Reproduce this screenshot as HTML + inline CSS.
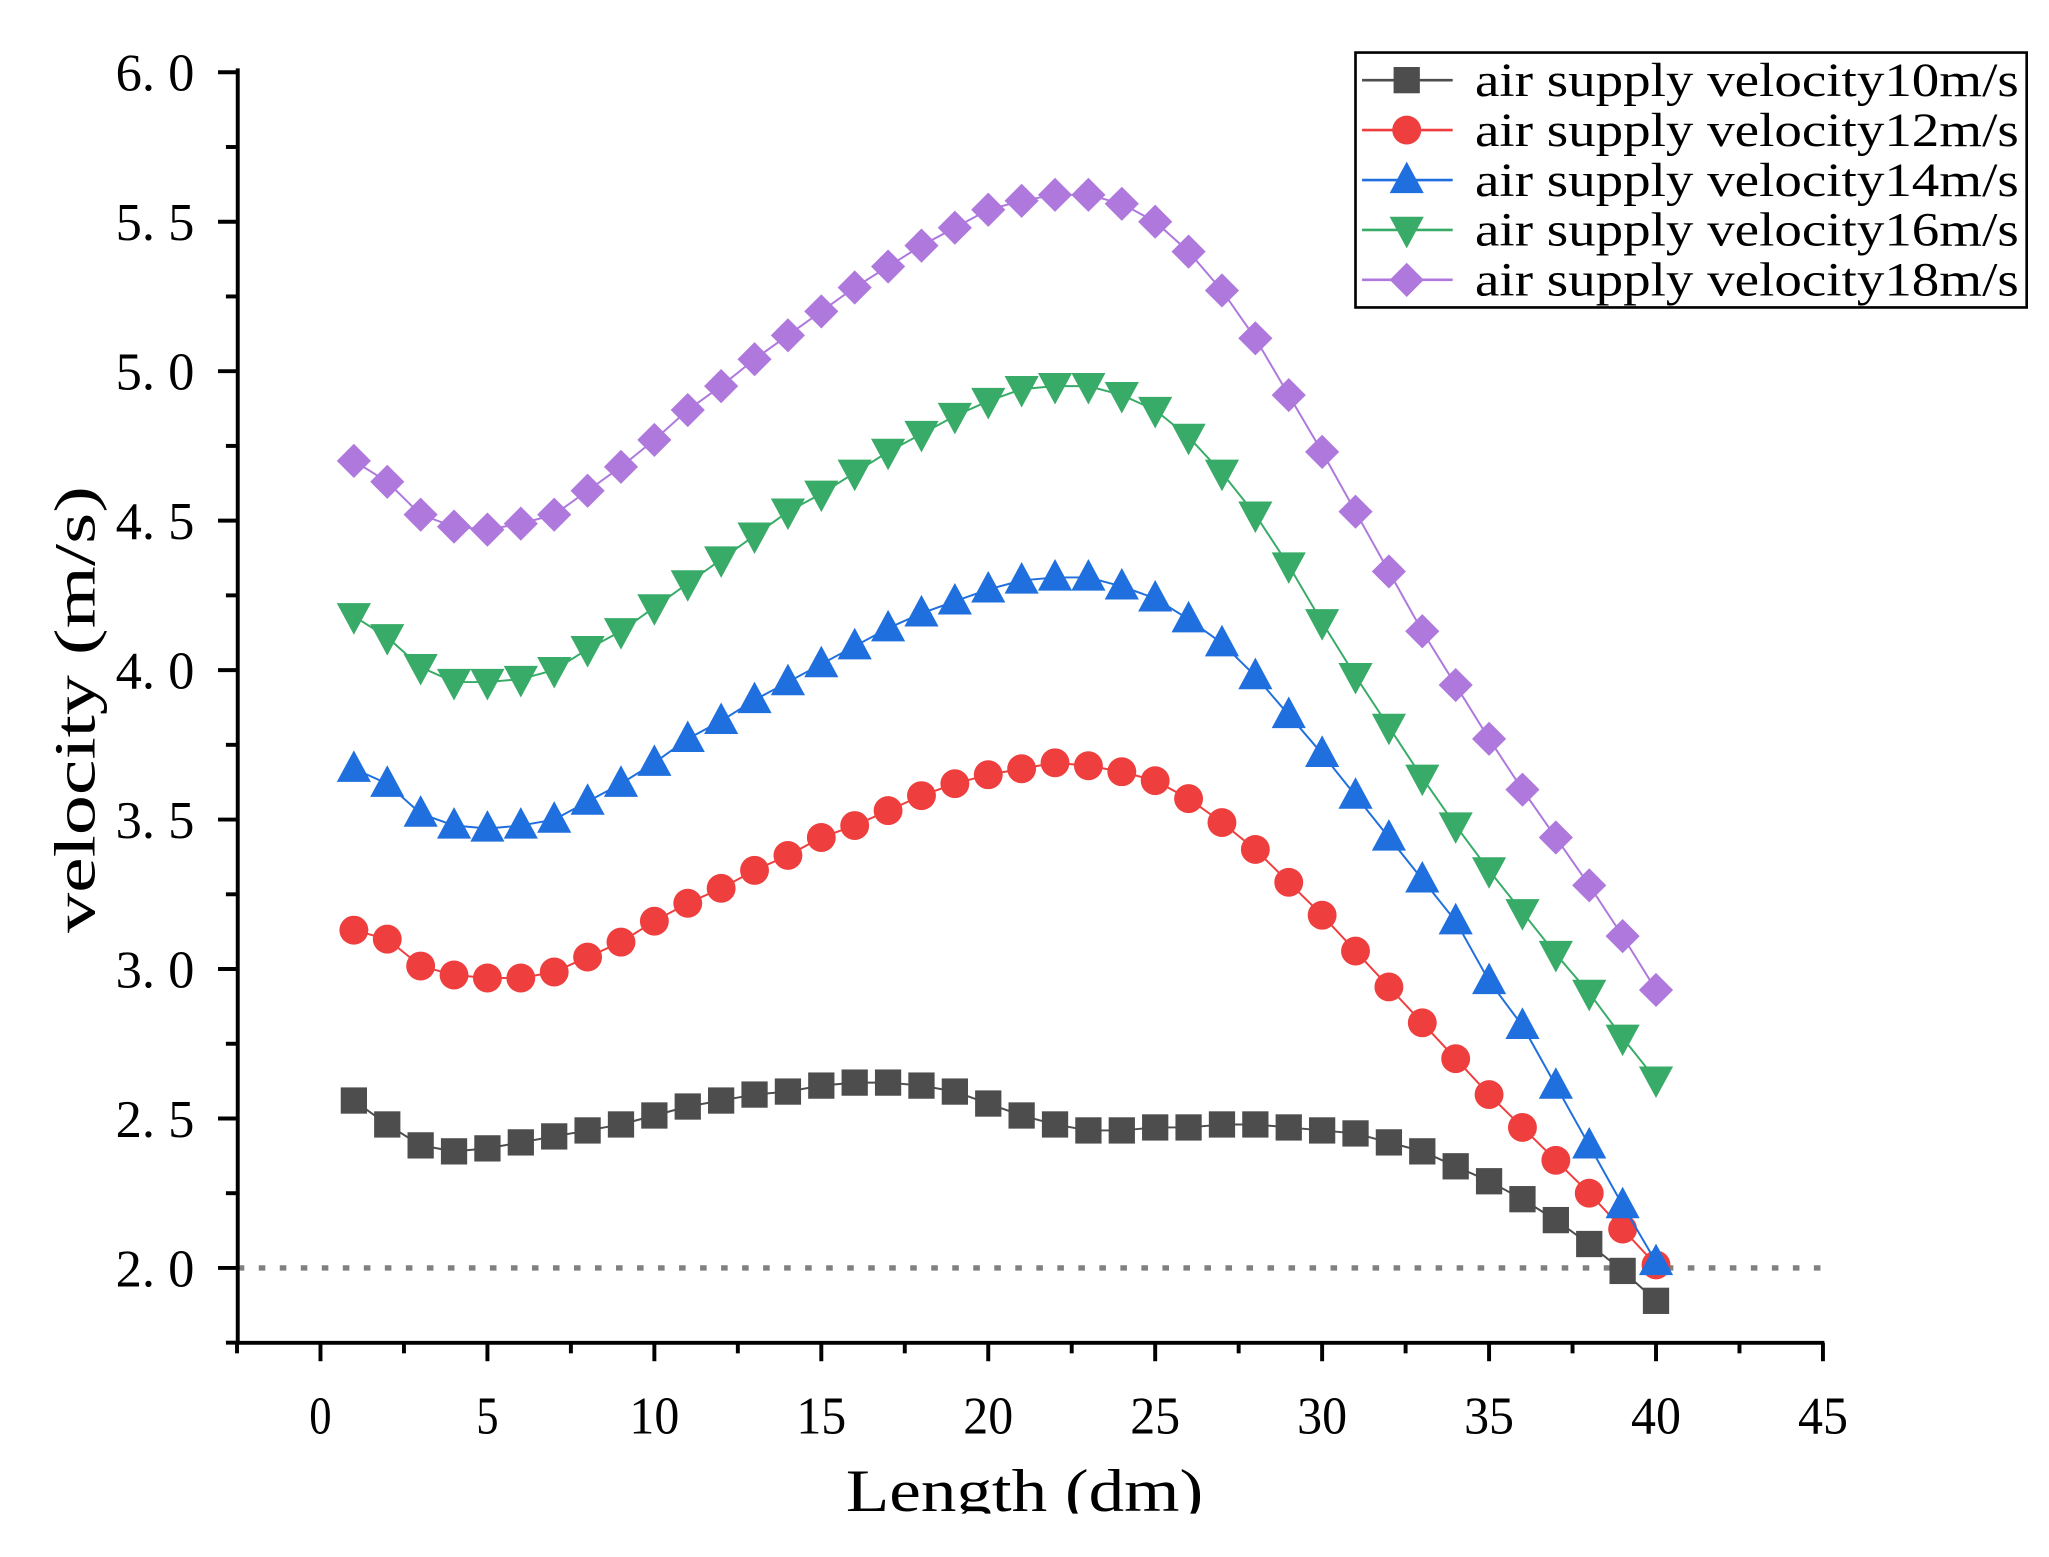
<!DOCTYPE html>
<html><head><meta charset="utf-8"><style>html,body{margin:0;padding:0;background:#fff}svg{display:block}</style></head>
<body>
<svg id="s" width="2049" height="1557" viewBox="0 0 1560 1185" preserveAspectRatio="none" xmlns="http://www.w3.org/2000/svg" font-family="'Liberation Serif','Noto Serif CJK SC',serif">
<defs><clipPath id="cp"><rect x="0" y="0" width="1560" height="1152"/></clipPath></defs>
<rect width="1560" height="1185" fill="#fff"/>
<g id="g" clip-path="url(#cp)"></g>
</svg>
<script>
const NS="http://www.w3.org/2000/svg",g=document.getElementById('g');
function el(t,a,txt){const e=document.createElementNS(NS,t);for(const k in a)e.setAttribute(k,a[k]);if(txt!==undefined)e.textContent=txt;g.appendChild(e);return e;}
const X=v=>244+v*25.42, Y=v=>965-(v-2)*227.5;
el('line',{x1:181,y1:965,x2:1388,y2:965,stroke:'#808080','stroke-width':4,'stroke-dasharray':'5 11'});
el('line',{x1:181,y1:52,x2:181,y2:1023,stroke:'#000','stroke-width':3});
el('line',{x1:180,y1:1022,x2:1389,y2:1022,stroke:'#000','stroke-width':3});
for(let i=0;i<=17;i++){const v=1.75+i*0.25,y=Y(v);if(v>6.01)break;const maj=Math.abs(v*2-Math.round(v*2))<1e-6;
 el('line',{x1:maj?166:172,y1:y,x2:181,y2:y,stroke:'#000','stroke-width':3});
 if(maj)el('text',{x:148,y:y+14,'text-anchor':'end','font-size':40,textLength:60,lengthAdjust:'spacingAndGlyphs'},v.toFixed(1).replace('.','. '));}
for(let i=-2;i<=18;i++){const v=i*2.5,x=X(v);if(x<180)continue;const maj=i%2==0;
 el('line',{x1:x,y1:1022,x2:x,y2:maj?1036:1030,stroke:'#000','stroke-width':3});
 if(maj)el('text',{x:x,y:1091,'text-anchor':'middle','font-size':40,textLength:v<10?17:38,lengthAdjust:'spacingAndGlyphs'},String(v));}
el('text',{x:780,y:1150,'text-anchor':'middle','font-size':46,textLength:272,lengthAdjust:'spacingAndGlyphs'},'Length (dm)');
el('text',{transform:'translate(72,540) rotate(-90)','text-anchor':'middle','font-size':44,textLength:340,lengthAdjust:'spacingAndGlyphs'},'velocity (m/s)');
const S=[
['#4d4d4d','sq',[2.56,2.48,2.41,2.39,2.40,2.42,2.44,2.46,2.48,2.51,2.54,2.56,2.58,2.59,2.61,2.62,2.62,2.61,2.59,2.55,2.51,2.48,2.46,2.46,2.47,2.47,2.48,2.48,2.47,2.46,2.45,2.42,2.39,2.34,2.29,2.23,2.16,2.08,1.99,1.89]],
['#ef3e3e','ci',[3.13,3.10,3.01,2.98,2.97,2.97,2.99,3.04,3.09,3.16,3.22,3.27,3.33,3.38,3.44,3.48,3.53,3.58,3.62,3.65,3.67,3.69,3.68,3.66,3.63,3.57,3.49,3.40,3.29,3.18,3.06,2.94,2.82,2.70,2.58,2.47,2.36,2.25,2.13,2.01]],
['#1f6fde','up',[3.67,3.62,3.52,3.48,3.47,3.48,3.50,3.56,3.62,3.69,3.77,3.83,3.90,3.96,4.02,4.08,4.14,4.19,4.23,4.27,4.30,4.31,4.31,4.28,4.24,4.17,4.09,3.98,3.85,3.72,3.58,3.44,3.30,3.16,2.96,2.81,2.61,2.41,2.21,2.02]],
['#38ab68','dn',[4.18,4.11,4.01,3.96,3.96,3.97,4.00,4.07,4.13,4.21,4.29,4.37,4.45,4.53,4.59,4.66,4.73,4.79,4.85,4.90,4.94,4.95,4.95,4.92,4.87,4.78,4.66,4.52,4.35,4.16,3.98,3.81,3.64,3.48,3.33,3.19,3.05,2.92,2.77,2.63]],
['#ae78dd','di',[4.70,4.63,4.52,4.48,4.47,4.49,4.52,4.60,4.68,4.77,4.87,4.95,5.04,5.12,5.20,5.28,5.35,5.42,5.48,5.54,5.57,5.59,5.59,5.56,5.50,5.40,5.27,5.11,4.92,4.73,4.53,4.33,4.13,3.95,3.77,3.60,3.44,3.28,3.11,2.93]]];
function mk(t,x,y,c){
 if(t=='sq')el('rect',{x:x-10,y:y-10,width:20,height:20,fill:c});
 else if(t=='ci')el('ellipse',{cx:x,cy:y,rx:11,ry:11,fill:c});
 else if(t=='up')el('polygon',{points:`${x},${y-14} ${x+13},${y+10} ${x-13},${y+10}`,fill:c});
 else if(t=='dn')el('polygon',{points:`${x},${y+14} ${x+13},${y-10} ${x-13},${y-10}`,fill:c});
 else el('polygon',{points:`${x},${y-13} ${x+13},${y} ${x},${y+13} ${x-13},${y}`,fill:c});}
S.forEach(([c,t,d])=>{el('polyline',{points:d.map((v,i)=>X(i+1)+','+Y(v)).join(' '),fill:'none',stroke:c,'stroke-width':1.5});d.forEach((v,i)=>mk(t,X(i+1),Y(v),c));});
el('rect',{x:1032,y:40,width:511,height:194,fill:'#fff',stroke:'#000','stroke-width':2});
const labs=['10','12','14','16','18'];
S.forEach(([c,t],i)=>{const y=61+i*38;el('line',{x1:1037,y1:y,x2:1106,y2:y,stroke:c,'stroke-width':2});mk(t,1071,y,c);
 el('text',{x:1123,y:y+12,'font-size':36,textLength:414,lengthAdjust:'spacingAndGlyphs'},'air supply velocity'+labs[i]+'m/s');});
</script>
</body></html>
